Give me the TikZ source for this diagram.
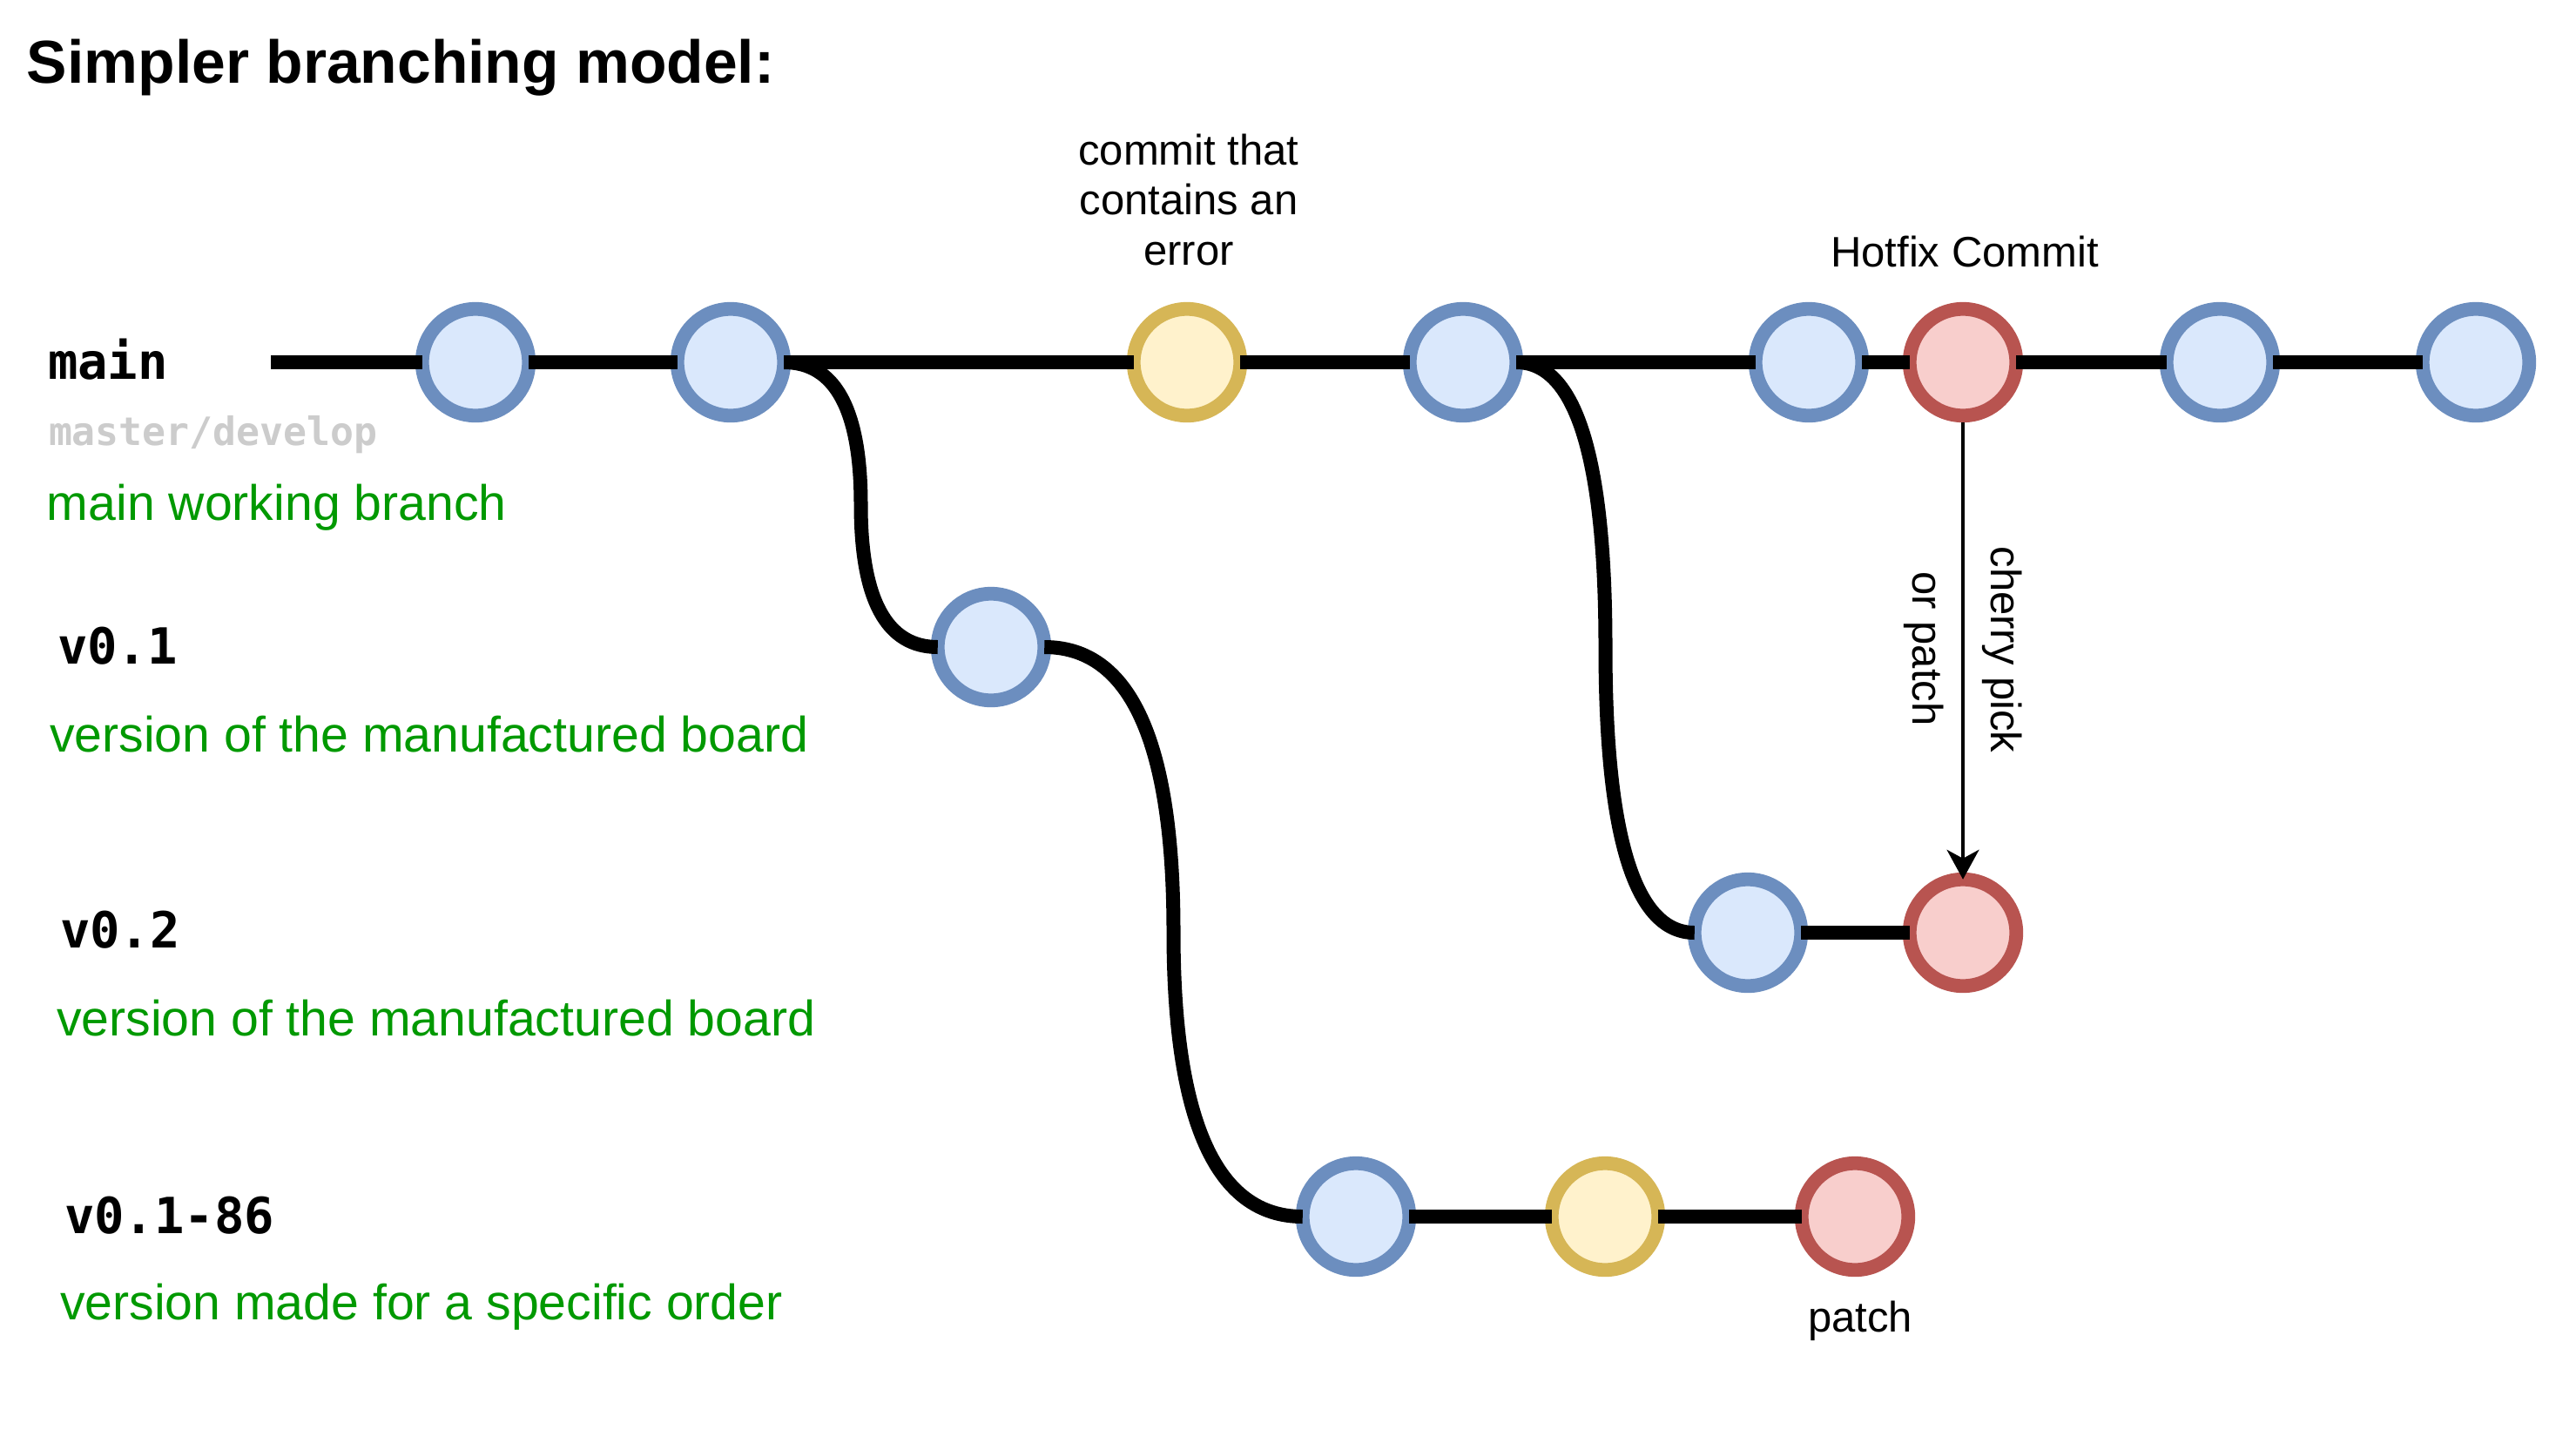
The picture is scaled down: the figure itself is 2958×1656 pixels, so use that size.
\documentclass[tikz,border=0pt]{standalone}
\usepackage{fontspec}
\setmainfont{Liberation Sans}
\newfontfamily\monofont{DejaVu Sans Mono}
\usetikzlibrary{calc,arrows.meta}
\definecolor{bluefill}{HTML}{DAE8FC}
\definecolor{bluedraw}{HTML}{6C8EBF}
\definecolor{yelfill}{HTML}{FFF2CC}
\definecolor{yeldraw}{HTML}{D6B656}
\definecolor{redfill}{HTML}{F8CECC}
\definecolor{reddraw}{HTML}{B85450}
\definecolor{descgreen}{HTML}{009900}
\definecolor{lightgrey}{HTML}{CCCCCC}
\newcommand{\forkcurve}[3]{%
  \coordinate (#3) at ($(#1.east)!0.5!(#2.west)$);
  \coordinate (#3a) at (#1.east -| #3);
  \coordinate (#3b) at (#2.west -| #3);
  \draw[branch] (#1.east) .. controls ($(#1.east)!2/3!(#3a)$) and ($(#3)!2/3!(#3a)$) .. (#3)
    .. controls ($(#3)!2/3!(#3b)$) and ($(#2.west)!2/3!(#3b)$) .. (#2.west);
}
\begin{document}
\begin{tikzpicture}[x=0.5pt,y=-0.5pt,
  commit/.style={circle, minimum size=61.25pt, inner sep=0pt, outer sep=0pt, line width=7.9pt},
  cblue/.style={commit, draw=bluedraw, fill=bluefill},
  cyel/.style={commit, draw=yeldraw, fill=yelfill},
  cred/.style={commit, draw=reddraw, fill=redfill},
  branch/.style={line width=8pt, black},
  pickarrow/.style={line width=1.75pt, black, -{Stealth[length=17pt,width=18.5pt,inset=5pt]}},
  txt/.style={inner sep=0pt, outer sep=0pt},
  titletxt/.style={txt, anchor=base west, font=\fontsize{34.8pt}{41pt}\selectfont\bfseries},
  lbl/.style={txt, anchor=base west, font=\monofont\fontsize{28.6pt}{33pt}\selectfont\bfseries},
  sublbl/.style={txt, anchor=base west, text=lightgrey, font=\monofont\fontsize{22.4pt}{27pt}\selectfont\bfseries},
  desc/.style={txt, anchor=base west, text=descgreen, font=\fontsize{28.6pt}{33pt}\selectfont},
  note/.style={txt, font=\fontsize{24.5pt}{28.75pt}\selectfont}
]
\fill[white] (0,0) rectangle (2958,1656);
\useasboundingbox (0,0) rectangle (2958,1656);

% title and left labels
\node[titletxt] (title) at (31,95) {Simpler branching model:};
\node[lbl] (lmain) at (55,435) {main};
\node[sublbl] (lmaster) at (56,511) {master/develop};
\node[desc] (dmain) at (54,597) {main working branch};
\node[lbl] (lv1) at (66,762) {v0.1};
\node[desc] (dv1) at (57,863) {version of the manufactured board};
\node[lbl] (lv2) at (69,1088) {v0.2};
\node[desc] (dv2) at (65,1189) {version of the manufactured board};
\node[lbl] (lv3) at (74,1416) {v0.1-86};
\node[desc] (dv3) at (69,1515) {version made for a specific order};

% commits
\node[cblue] (m1) at (546,416) {};
\node[cblue] (m2) at (839,416) {};
\node[cyel]  (m3) at (1363,416) {};
\node[cblue] (m4) at (1680,416) {};
\node[cblue] (m5) at (2077,416) {};
\node[cred]  (m6) at (2254,416) {};
\node[cblue] (m7) at (2549,416) {};
\node[cblue] (m8) at (2843,416) {};
\node[cblue] (a1) at (1138,743) {};
\node[cblue] (b1) at (2007,1071) {};
\node[cred]  (b2) at (2254,1071) {};
\node[cblue] (c1) at (1557,1397) {};
\node[cyel]  (c2) at (1843,1397) {};
\node[cred]  (c3) at (2130,1397) {};

% main line
\coordinate (mstart) at (311,416);
\draw[branch] (mstart) -- (m1.west);
\draw[branch] (m1) -- (m2);
\draw[branch] (m2) -- (m3);
\draw[branch] (m3) -- (m4);
\draw[branch] (m4) -- (m5);
\draw[branch] (m5) -- (m6);
\draw[branch] (m6) -- (m7);
\draw[branch] (m7) -- (m8);
% side branches
\draw[branch] (b1) -- (b2);
\draw[branch] (c1) -- (c2);
\draw[branch] (c2) -- (c3);
\forkcurve{m2}{a1}{ka}
\forkcurve{a1}{c1}{kb}
\forkcurve{m4}{b1}{kc}

% cherry pick arrow
\draw[pickarrow, shorten <=4pt] (m6.south) -- (b2.north);
\node[note, rotate=-90, anchor=base] (cherry) at (2286,746) {cherry pick};
\node[note, rotate=-90, anchor=base] (orpatch) at (2196,745) {or patch};

% notes
\node[note, anchor=base, align=center] (errnote) at (1365,304) {commit that\\contains an\\error};
\node[note, anchor=base] (hotfix) at (2256,306) {Hotfix Commit};
\node[note, anchor=base] (patchlbl) at (2136,1529) {patch};
\end{tikzpicture}
\end{document}
